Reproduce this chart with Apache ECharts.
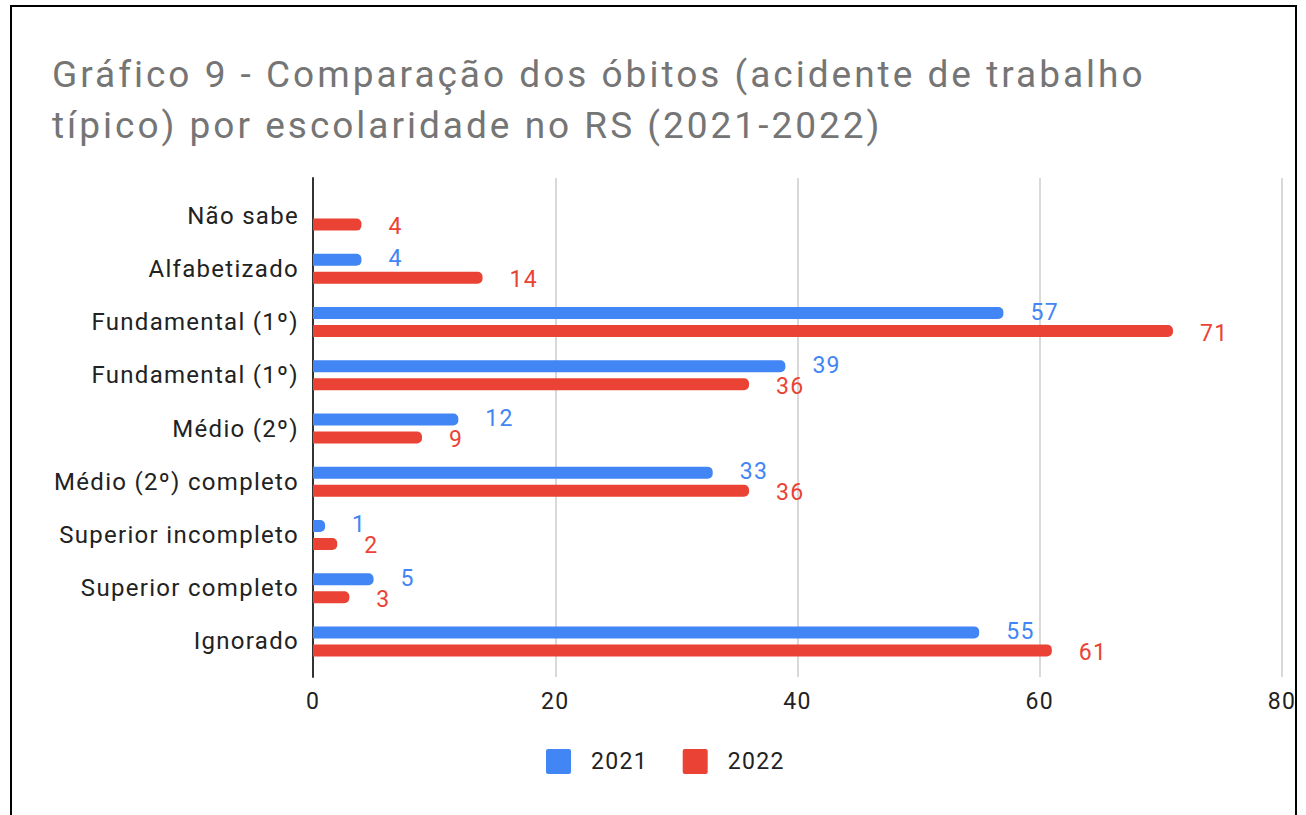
<!DOCTYPE html>
<html>
<head>
<meta charset="utf-8">
<script src="https://cdn.jsdelivr.net/npm/echarts@6/dist/echarts.min.js"></script>
<style>
  html, body { margin: 0; padding: 0; background: #fff; }
  #frame { position: absolute; left: 10px; top: 5px; width: 1287px; height: 900px; border: 2px solid #000; box-sizing: border-box; }
  #chart { position: absolute; left: 0; top: 0; width: 1306px; height: 815px; }
  #chart text { letter-spacing: 1.3px; }
  #chart text[style*="37px"] { letter-spacing: 3px; }
</style>
</head>
<body>
<div id="frame"></div>
<div id="chart"></div>
<script>
const titleText = 'Gráfico 9 - Comparação dos óbitos (acidente de trabalho\ntípico) por escolaridade no RS (2021-2022)';
const categories = ['Não sabe', 'Alfabetizado', 'Fundamental (1º)', 'Fundamental (1º)', 'Médio (2º)', 'Médio (2º) completo', 'Superior incompleto', 'Superior completo', 'Ignorado'];
const seriesNames = ['2021', '2022'];
const values2021 = [null, 4, 57, 39, 12, 33, 1, 5, 55];
const values2022 = [4, 14, 71, 36, 9, 36, 2, 3, 61];
const xTicks = { min: 0, max: 80, interval: 20 };

const FONT = 'Roboto';
const chart = echarts.init(document.getElementById('chart'), null, { renderer: 'svg' });

function barSeries(name, data, color, dy) {
  return {
    name: name,
    type: 'bar',
    xAxisIndex: 1,
    yAxisIndex: 1,
    data: data,
    barWidth: 12,
    barGap: '50%',
    itemStyle: { color: color, borderRadius: [0, 5, 5, 0] },
    label: {
      show: true,
      position: 'right',
      distance: 27,
      offset: [0, dy],
      color: color,
      fontFamily: FONT,
      fontSize: 23
    }
  };
}

chart.setOption({
  animation: false,
  title: {
    text: titleText,
    left: 47,
    top: 44,
    textStyle: { fontFamily: FONT, fontSize: 37, fontWeight: 'normal', color: '#757575', lineHeight: 51 }
  },
  legend: {
    data: seriesNames,
    left: 541,
    top: 744,
    itemWidth: 25,
    itemHeight: 25,
    itemGap: 40,
    icon: 'path://M2,0H22A2,2,0,0,1,24,2V22A2,2,0,0,1,22,24H2A2,2,0,0,1,0,22V2A2,2,0,0,1,2,0Z',
    textStyle: { fontFamily: FONT, fontSize: 23, color: '#222', padding: [0, 0, 0, 15] }
  },
  grid: [
    { left: 313, right: 24, top: 178, bottom: 138 },
    { left: 313, right: 24, top: 189, bottom: 147 }
  ],
  xAxis: [
    {
      type: 'value', gridIndex: 0, min: xTicks.min, max: xTicks.max, interval: xTicks.interval,
      axisLine: { show: false }, axisTick: { show: false },
      splitLine: { show: true, lineStyle: { color: '#cccccc', width: 1.5 } },
      axisLabel: { fontFamily: FONT, fontSize: 23, color: '#222', margin: 13 }
    },
    {
      type: 'value', gridIndex: 1, min: xTicks.min, max: xTicks.max, interval: xTicks.interval,
      show: false
    }
  ],
  yAxis: [
    {
      type: 'category', gridIndex: 0, data: categories, inverse: true,
      axisLine: { show: true, lineStyle: { color: '#333', width: 2 } },
      axisTick: { show: false }, axisLabel: { show: false }, splitLine: { show: false }
    },
    {
      type: 'category', gridIndex: 1, data: categories, inverse: true,
      axisLine: { show: false }, axisTick: { show: false },
      axisLabel: { fontFamily: FONT, fontSize: 24, color: '#222', margin: 14 }
    }
  ],
  series: [
    barSeries(seriesNames[0], values2021, '#4285F4', -1),
    barSeries(seriesNames[1], values2022, '#EA4335', 2)
  ]
});
</script>
</body>
</html>
